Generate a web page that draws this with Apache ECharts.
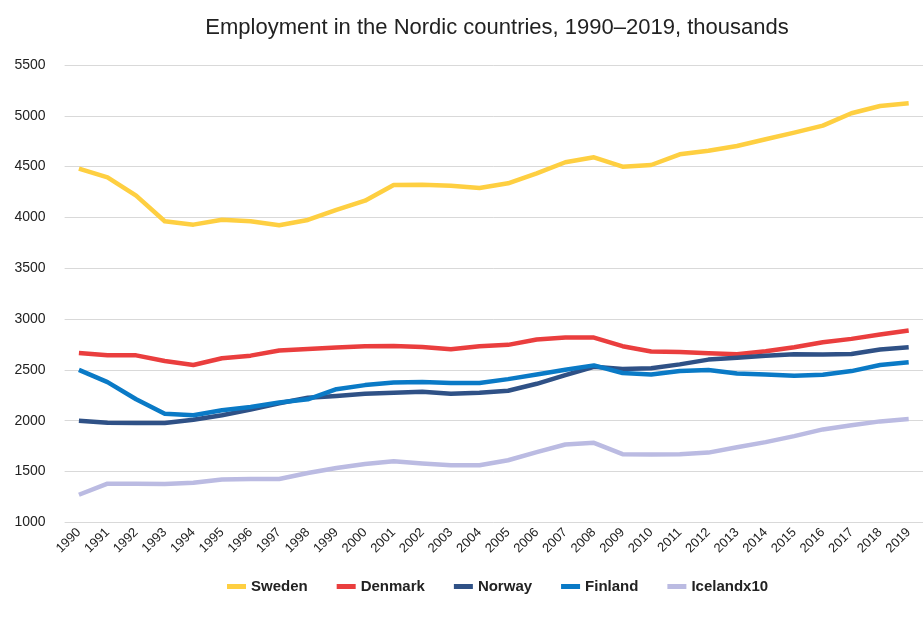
<!DOCTYPE html>
<html>
<head>
<meta charset="utf-8">
<script src="https://cdn.jsdelivr.net/npm/echarts@6/dist/echarts.min.js"></script>
<style>html,body{margin:0;padding:0;background:#fff}#c{width:923px;height:618px}</style>
</head>
<body>
<div id="c"></div>
<script>
const years = ['1990','1991','1992','1993','1994','1995','1996','1997','1998','1999','2000','2001','2002','2003','2004','2005','2006','2007','2008','2009','2010','2011','2012','2013','2014','2015','2016','2017','2018','2019'];
const sweden = [4480,4395,4214,3962,3929,3978,3962,3923,3975,4075,4165,4319,4322,4312,4290,4336,4434,4543,4592,4499,4516,4621,4657,4703,4769,4834,4903,5025,5097,5123];
const denmark = [2667,2643,2643,2587,2548,2614,2640,2690,2706,2719,2733,2736,2726,2703,2733,2746,2799,2818,2818,2733,2680,2677,2663,2653,2683,2723,2772,2805,2848,2888];
const norway = [2000,1980,1977,1977,2010,2053,2109,2172,2225,2244,2264,2274,2284,2264,2274,2294,2363,2449,2531,2508,2515,2554,2601,2620,2640,2653,2650,2657,2700,2723];
const finland = [2500,2380,2211,2069,2053,2102,2135,2178,2210,2310,2350,2376,2380,2370,2370,2409,2455,2502,2544,2469,2455,2488,2498,2465,2455,2442,2452,2488,2548,2574];
const icelandx10 = [1271,1380,1380,1376,1389,1422,1426,1426,1485,1535,1574,1601,1578,1561,1561,1611,1690,1766,1782,1670,1667,1670,1686,1739,1789,1848,1914,1954,1993,2016];
const seriesNames = ['Sweden','Denmark','Norway','Finland','Icelandx10'];
const seriesData = [sweden, denmark, norway, finland, icelandx10];
const colors = ['#fecf41','#ea3e3e','#2f5186','#0a7ac6','#bbbbe2'];

const FONT = '"Liberation Sans", Arial, sans-serif';
const chart = echarts.init(document.getElementById('c'), null, {renderer:'canvas'});
chart.setOption({
  animation:false,
  backgroundColor:'#fff',
  title:{
    text:'Employment in the Nordic countries, 1990–2019, thousands',
    left:492, top:12, textAlign:'center',
    textStyle:{fontFamily:FONT, fontSize:22, fontWeight:'normal', color:'#222'}
  },
  legend:{
    top:574, left:222,
    icon:'rect', itemWidth:19, itemHeight:5, itemGap:29,
    textStyle:{fontFamily:FONT, fontSize:15, fontWeight:'bold', color:'#222'},
    data:seriesNames
  },
  grid:{left:64.6, right:-4, top:65, bottom:95.7, containLabel:false},
  xAxis:{
    type:'category', data:years, boundaryGap:true,
    axisLine:{show:false}, axisTick:{show:false},
    axisLabel:{rotate:45, fontFamily:FONT, fontSize:13, color:'#222', margin:8, interval:0}
  },
  yAxis:{
    type:'value', min:1000, max:5500, interval:500,
    axisLine:{show:false}, axisTick:{show:false},
    splitLine:{lineStyle:{color:'#d9d9d9', width:1}},
    axisLabel:{fontFamily:FONT, fontSize:14, color:'#222', margin:19, formatter:(v)=>String(v)}
  },
  series: seriesNames.map((n,i)=>({
    name:n, type:'line', data:seriesData[i], showSymbol:false, symbol:'none',
    lineStyle:{width:4.5, color:colors[i], join:'round'}, itemStyle:{color:colors[i]}
  }))
});
</script>
</body>
</html>
